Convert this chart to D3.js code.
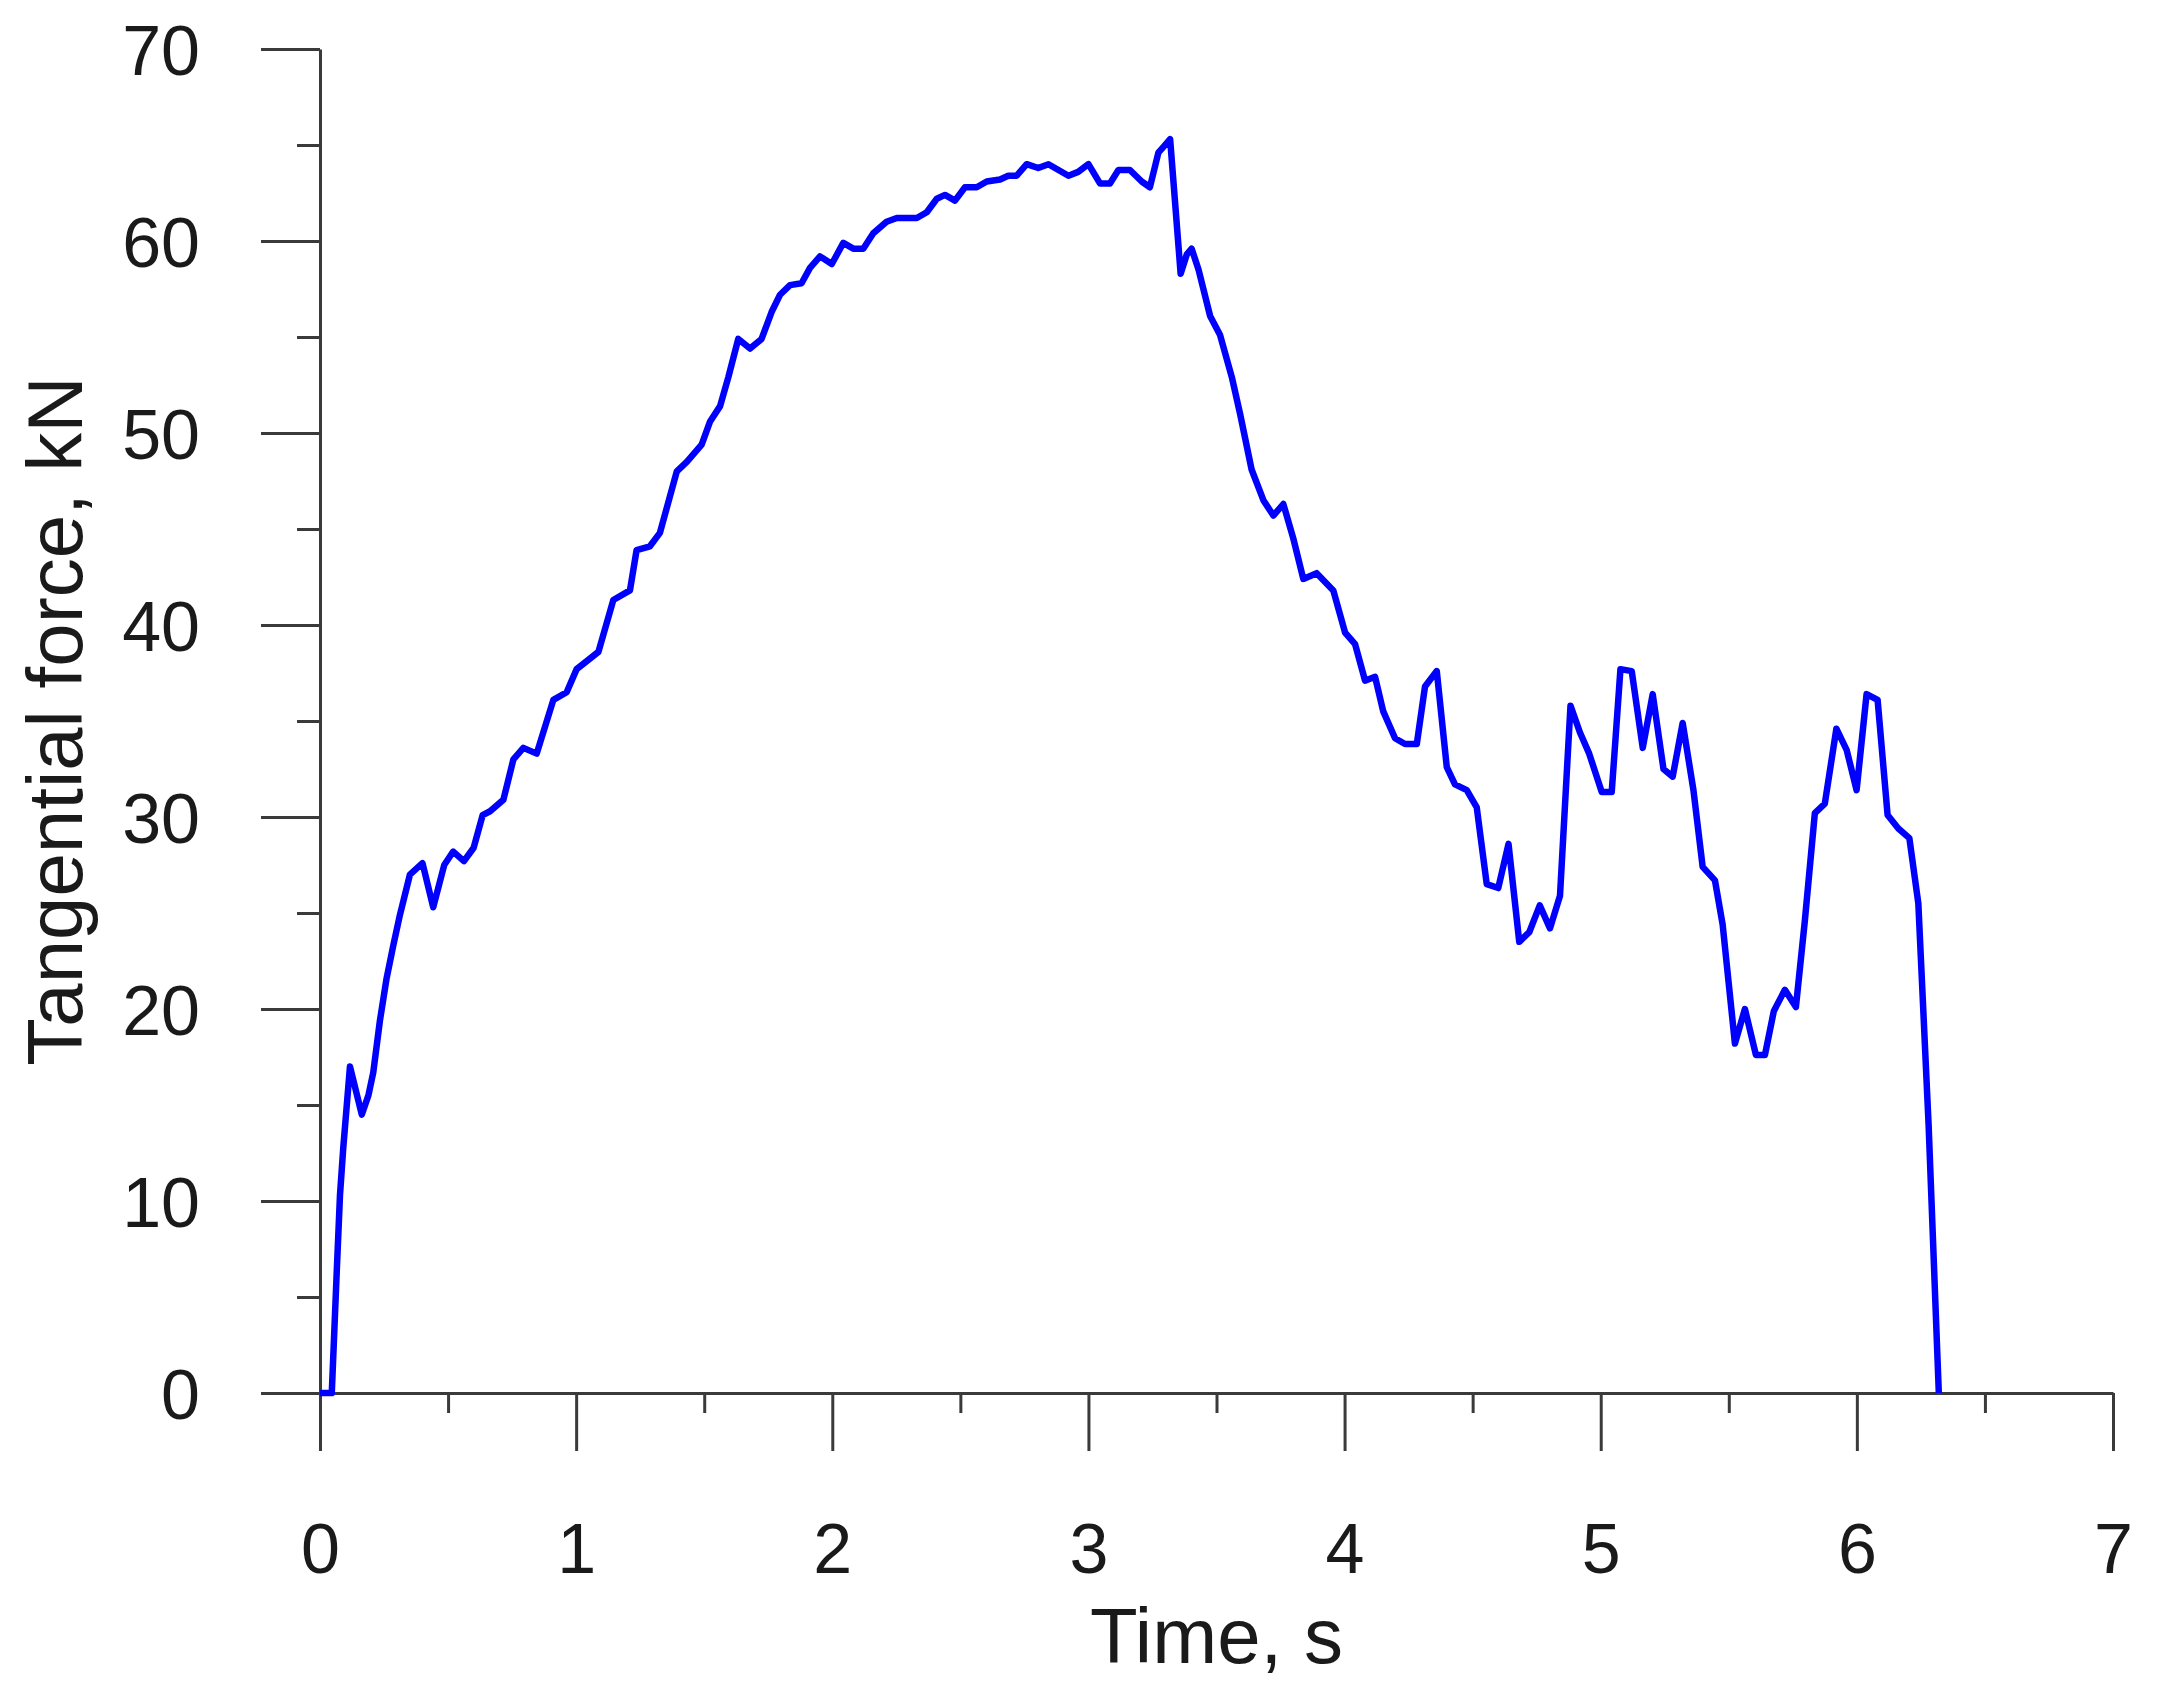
<!DOCTYPE html>
<html>
<head>
<meta charset="utf-8">
<script src="https://cdn.jsdelivr.net/npm/d3@7"></script>
<style>
  html, body { margin: 0; padding: 0; background: #fff; }
  svg { display: block; }
  text { font-family: "Liberation Sans", Arial, sans-serif; fill: #1a1a1a; }
</style>
</head>
<body>
<svg id="chart" width="2157" height="1690"></svg>
<script>
// ---- data ----
const time = [0, 0.046, 0.065, 0.078, 0.091, 0.117, 0.163, 0.189, 0.208, 0.234, 0.26, 0.286, 0.312, 0.351, 0.40, 0.442,
  0.485, 0.52, 0.562, 0.60, 0.635, 0.664, 0.716, 0.755, 0.794, 0.846, 0.911, 0.963, 1.002, 1.087, 1.145, 1.21, 1.236,
  1.288, 1.327, 1.393, 1.432, 1.49, 1.523, 1.562, 1.594, 1.633, 1.679, 1.724, 1.763, 1.796, 1.835, 1.88, 1.913, 1.952,
  1.998, 2.043, 2.082, 2.121, 2.16, 2.212, 2.252, 2.33, 2.369, 2.408, 2.44, 2.479, 2.518, 2.564, 2.603, 2.655, 2.687,
  2.72, 2.759, 2.804, 2.844, 2.883, 2.922, 2.96, 3.0, 3.045, 3.084, 3.117, 3.162, 3.208, 3.24, 3.273, 3.293, 3.319,
  3.36, 3.384, 3.403, 3.43, 3.475, 3.514, 3.56, 3.592, 3.637, 3.683, 3.722, 3.761, 3.80, 3.839, 3.891, 3.956, 4.002,
  4.041, 4.08, 4.119, 4.151, 4.197, 4.236, 4.282, 4.314, 4.36, 4.399, 4.431, 4.477, 4.516, 4.555, 4.60, 4.64, 4.682,
  4.721, 4.762, 4.802, 4.841, 4.882, 4.919, 4.955, 5.004, 5.043, 5.077, 5.121, 5.164, 5.203, 5.245, 5.281, 5.32, 5.362,
  5.398, 5.446, 5.476, 5.524, 5.563, 5.606, 5.641, 5.676, 5.719, 5.762, 5.797, 5.836, 5.875, 5.92, 5.96, 5.999, 6.038,
  6.081, 6.12, 6.162, 6.205, 6.24, 6.28, 6.32];
const force = [0, 0, 6.2, 10.3, 12.8, 17.0, 14.5, 15.5, 16.7, 19.4, 21.6, 23.3, 24.9, 27.0, 27.6, 25.3,
  27.5, 28.2, 27.7, 28.4, 30.1, 30.3, 30.9, 33.0, 33.6, 33.3, 36.1, 36.5, 37.7, 38.6, 41.3, 41.8, 43.9,
  44.1, 44.8, 48.0, 48.5, 49.4, 50.6, 51.4, 52.9, 54.9, 54.4, 54.9, 56.3, 57.2, 57.7, 57.8, 58.6, 59.2,
  58.8, 59.9, 59.6, 59.6, 60.4, 61.0, 61.2, 61.2, 61.5, 62.2, 62.4, 62.1, 62.8, 62.8, 63.1, 63.2, 63.4,
  63.4, 64.0, 63.8, 64.0, 63.7, 63.4, 63.6, 64.0, 63.0, 63.0, 63.7, 63.7, 63.1, 62.8, 64.6, 64.9, 65.3,
  58.3, 59.3, 59.6, 58.5, 56.1, 55.1, 52.9, 51.0, 48.1, 46.5, 45.7, 46.3, 44.5, 42.4, 42.7, 41.8, 39.6,
  39.0, 37.1, 37.3, 35.5, 34.1, 33.8, 33.8, 36.8, 37.6, 32.6, 31.7, 31.4, 30.5, 26.5, 26.3, 28.6, 23.5,
  24.0, 25.4, 24.2, 25.9, 35.8, 34.4, 33.3, 31.3, 31.3, 37.7, 37.6, 33.6, 36.4, 32.5, 32.1, 34.9, 31.4,
  27.4, 26.7, 24.4, 18.2, 20.0, 17.6, 17.6, 19.9, 21.0, 20.1, 24.6, 30.2, 30.7, 34.6, 33.5, 31.4, 36.4,
  36.1, 30.1, 29.4, 28.9, 25.5, 14.0, 0];
const xTicks = [0, 1, 2, 3, 4, 5, 6, 7];
const yTicks = [0, 10, 20, 30, 40, 50, 60, 70];
const xMinor = [0.5, 1.5, 2.5, 3.5, 4.5, 5.5, 6.5];
const yMinor = [5, 15, 25, 35, 45, 55, 65];
const xTitle = "Time, s";
const yTitle = "Tangential force, kN";

// ---- layout ----
const svg = d3.select("#chart");
const x = d3.scaleLinear().domain([0, 7]).range([320, 2113]);
const y = d3.scaleLinear().domain([0, 70]).range([1393, 49]);
const axisColor = "#3a3a3a";

function styleAxis(g) {
  g.selectAll(".domain").attr("stroke", axisColor).attr("stroke-width", 3);
  g.selectAll(".tick line").attr("stroke", axisColor).attr("stroke-width", 3);
}

// minor ticks
const gxm = svg.append("g").attr("transform", `translate(0,${y(0)})`)
  .call(d3.axisBottom(x).tickValues(xMinor).tickSize(20).tickFormat(""));
styleAxis(gxm);
gxm.select(".domain").remove();
const gym = svg.append("g").attr("transform", `translate(${x(0)},0)`)
  .call(d3.axisLeft(y).tickValues(yMinor).tickSize(23).tickFormat(""));
styleAxis(gym);
gym.select(".domain").remove();

// major x axis
const gx = svg.append("g").attr("transform", `translate(0,${y(0)})`)
  .call(d3.axisBottom(x).tickValues(xTicks).tickSize(58).tickSizeOuter(0).tickPadding(0).tickFormat(d3.format("d")));
styleAxis(gx);
gx.selectAll(".tick text")
  .attr("y", 180).attr("dy", 0)
  .style("font-size", "70px").style("font-family", "'Liberation Sans', Arial, sans-serif")
  .attr("fill", "#1a1a1a");

// major y axis
const gy = svg.append("g").attr("transform", `translate(${x(0)},0)`)
  .call(d3.axisLeft(y).tickValues(yTicks).tickSize(59).tickSizeOuter(0).tickFormat(d3.format("d")));
styleAxis(gy);
gy.selectAll(".tick text")
  .attr("x", -120).attr("dy", "0.36em")
  .style("font-size", "70px").style("font-family", "'Liberation Sans', Arial, sans-serif")
  .attr("fill", "#1a1a1a");

// titles
svg.append("text")
  .attr("x", (x(0) + x(7)) / 2).attr("y", 1663)
  .attr("text-anchor", "middle")
  .style("font-size", "78px")
  .text(xTitle);
svg.append("text")
  .attr("transform", `translate(82,${(y(0) + y(70)) / 2}) rotate(-90)`)
  .attr("text-anchor", "middle")
  .style("font-size", "78px")
  .text(yTitle);

// line
const data = time.map((t, i) => ({ t, f: force[i] }));
const line = d3.line().x(d => x(d.t)).y(d => y(d.f));
svg.append("path")
  .datum(data)
  .attr("d", line)
  .attr("fill", "none")
  .attr("stroke", "#0000ff")
  .attr("stroke-width", 6.5)
  .attr("stroke-linejoin", "round");
</script>
</body>
</html>
